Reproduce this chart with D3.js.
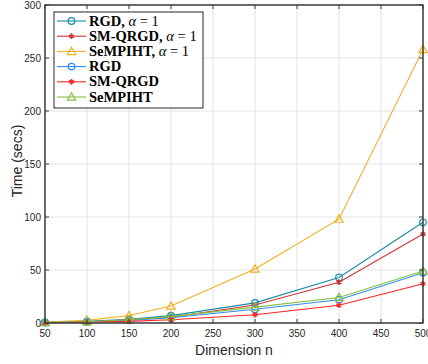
<!DOCTYPE html>
<html>
<head>
<meta charset="utf-8">
<script src="https://cdn.jsdelivr.net/npm/d3@7"></script>
<style>
  body { margin: 0; background: #fff; }
  svg text { font-family: "Liberation Sans", Arial, sans-serif; }
</style>
</head>
<body>
<div id="chart"></div>
<script>
// data
var dims = [50, 100, 150, 200, 300, 400, 500];
var rgdA1 = [0.6, 1.5, 3.5, 7, 19, 43, 95];
var smqrgdA1 = [0.5, 1.2, 3, 5.5, 17, 38.5, 84];
var sempihtA1 = [1, 2.5, 7, 16, 51, 98, 258];
var rgd = [0.4, 1, 2.5, 5, 13, 22, 47.5];
var smqrgd = [0.3, 0.8, 1.5, 3, 7.8, 16.8, 37];
var sempiht = [0.5, 1.2, 3, 6, 15, 24, 49];
var xTicks = [50, 100, 150, 200, 250, 300, 350, 400, 450, 500];
var yTicks = [0, 50, 100, 150, 200, 250, 300];

var series = [
  { name: "RGD", alpha: true, color: "#1c8aa6", marker: "circle", values: rgdA1 },
  { name: "SM-QRGD", alpha: true, color: "#cc3535", marker: "star", values: smqrgdA1 },
  { name: "SeMPIHT", alpha: true, color: "#f0b020", marker: "triangle", values: sempihtA1 },
  { name: "RGD", alpha: false, color: "#2f8cf5", marker: "circle", values: rgd },
  { name: "SM-QRGD", alpha: false, color: "#ff2424", marker: "star", values: smqrgd },
  { name: "SeMPIHT", alpha: false, color: "#86c040", marker: "triangle", values: sempiht }
];

var width = 428, height = 364;
var plotLeft = 45, plotRight = 423, plotTop = 5, plotBottom = 323;

var svg = d3.select("#chart").append("svg").attr("width", width).attr("height", height);

var x = d3.scaleLinear().domain([50, 500]).range([plotLeft, plotRight]);
var y = d3.scaleLinear().domain([0, 300]).range([plotBottom, plotTop]);

// grid
svg.append("g").selectAll("line").data(xTicks).join("line")
   .attr("x1", d => x(d)).attr("x2", d => x(d))
   .attr("y1", plotTop).attr("y2", plotBottom)
   .style("stroke", "#e3e3e3").style("stroke-width", 1);
svg.append("g").selectAll("line").data(yTicks).join("line")
   .attr("x1", plotLeft).attr("x2", plotRight)
   .attr("y1", d => y(d)).attr("y2", d => y(d))
   .style("stroke", "#e3e3e3").style("stroke-width", 1);

// lines + markers
var line = d3.line().x((d, i) => x(dims[i])).y(d => y(d));

function drawMarker(g, type, cx, cy, color) {
  if (type === "circle") {
    g.append("circle").attr("cx", cx).attr("cy", cy).attr("r", 3.3)
     .style("fill", "none").style("stroke", color).style("stroke-width", 1.2);
  } else if (type === "triangle") {
    var s = 4.2;
    g.append("path")
     .attr("d", "M" + cx + "," + (cy - s) + "L" + (cx + s) + "," + (cy + s * 0.75) + "L" + (cx - s) + "," + (cy + s * 0.75) + "Z")
     .style("fill", "none").style("stroke", color).style("stroke-width", 1.2);
  } else {
    g.append("path").attr("d", d3.symbol(d3.symbolAsterisk, 22)())
     .attr("transform", "translate(" + cx + "," + cy + ")")
     .style("fill", "none").style("stroke", color).style("stroke-width", 1.5);
  }
}

series.forEach(function(s) {
  var g = svg.append("g");
  g.append("path").datum(s.values).attr("d", line)
   .style("fill", "none").style("stroke", s.color).style("stroke-width", 1.1);
  s.values.forEach(function(v, i) { drawMarker(g, s.marker, x(dims[i]), y(v), s.color); });
});

// axes box
var axisColor = "#3c3c3c";
svg.append("rect").attr("x", plotLeft).attr("y", plotTop)
   .attr("width", plotRight - plotLeft).attr("height", plotBottom - plotTop)
   .style("fill", "none").style("stroke", axisColor).style("stroke-width", 1.5);

// ticks (inward, both sides)
xTicks.forEach(function(t) {
  svg.append("line").attr("x1", x(t)).attr("x2", x(t)).attr("y1", plotBottom).attr("y2", plotBottom - 4).style("stroke", axisColor);
  svg.append("line").attr("x1", x(t)).attr("x2", x(t)).attr("y1", plotTop).attr("y2", plotTop + 4).style("stroke", axisColor);
  svg.append("text").attr("x", x(t)).attr("y", plotBottom + 14).attr("text-anchor", "middle")
     .style("font-size", "10px").style("fill", "#262626").text(t);
});
yTicks.forEach(function(t) {
  svg.append("line").attr("x1", plotLeft).attr("x2", plotLeft + 4).attr("y1", y(t)).attr("y2", y(t)).style("stroke", axisColor);
  svg.append("line").attr("x1", plotRight).attr("x2", plotRight - 4).attr("y1", y(t)).attr("y2", y(t)).style("stroke", axisColor);
  svg.append("text").attr("x", plotLeft - 4).attr("y", y(t) + 3.5).attr("text-anchor", "end")
     .style("font-size", "10px").style("fill", "#262626").text(t);
});

// axis labels
svg.append("text").attr("x", (plotLeft + plotRight) / 2).attr("y", 355).attr("text-anchor", "middle")
   .style("font-size", "14px").style("fill", "#262626").text("Dimension n");
svg.append("text").attr("transform", "translate(22," + ((plotTop + plotBottom) / 2 - 3) + ") rotate(-90)")
   .attr("text-anchor", "middle").style("font-size", "14px").style("fill", "#262626").text("Time (secs)");

// legend
var lg = svg.append("g");
lg.append("rect").attr("x", 54).attr("y", 12).attr("width", 149).attr("height", 96)
  .style("fill", "#fff").style("stroke", "#262626").style("stroke-width", 1);
series.forEach(function(s, i) {
  var ly = 21 + i * 15.2;
  lg.append("line").attr("x1", 57).attr("x2", 86).attr("y1", ly).attr("y2", ly)
    .style("stroke", s.color).style("stroke-width", 1.1);
  drawMarker(lg, s.marker, 71.5, ly, s.color);
  var t = lg.append("text").attr("x", 89).attr("y", ly + 4.5)
    .style("font-family", "'Liberation Serif', 'DejaVu Serif', serif").style("font-size", "14.5px").style("fill", "#000");
  t.append("tspan").style("font-weight", "bold").text(s.name + (s.alpha ? ", " : ""));
  if (s.alpha) {
    t.append("tspan").style("font-style", "italic").text("α");
    t.append("tspan").text(" = 1");
  }
});
</script>
</body>
</html>
